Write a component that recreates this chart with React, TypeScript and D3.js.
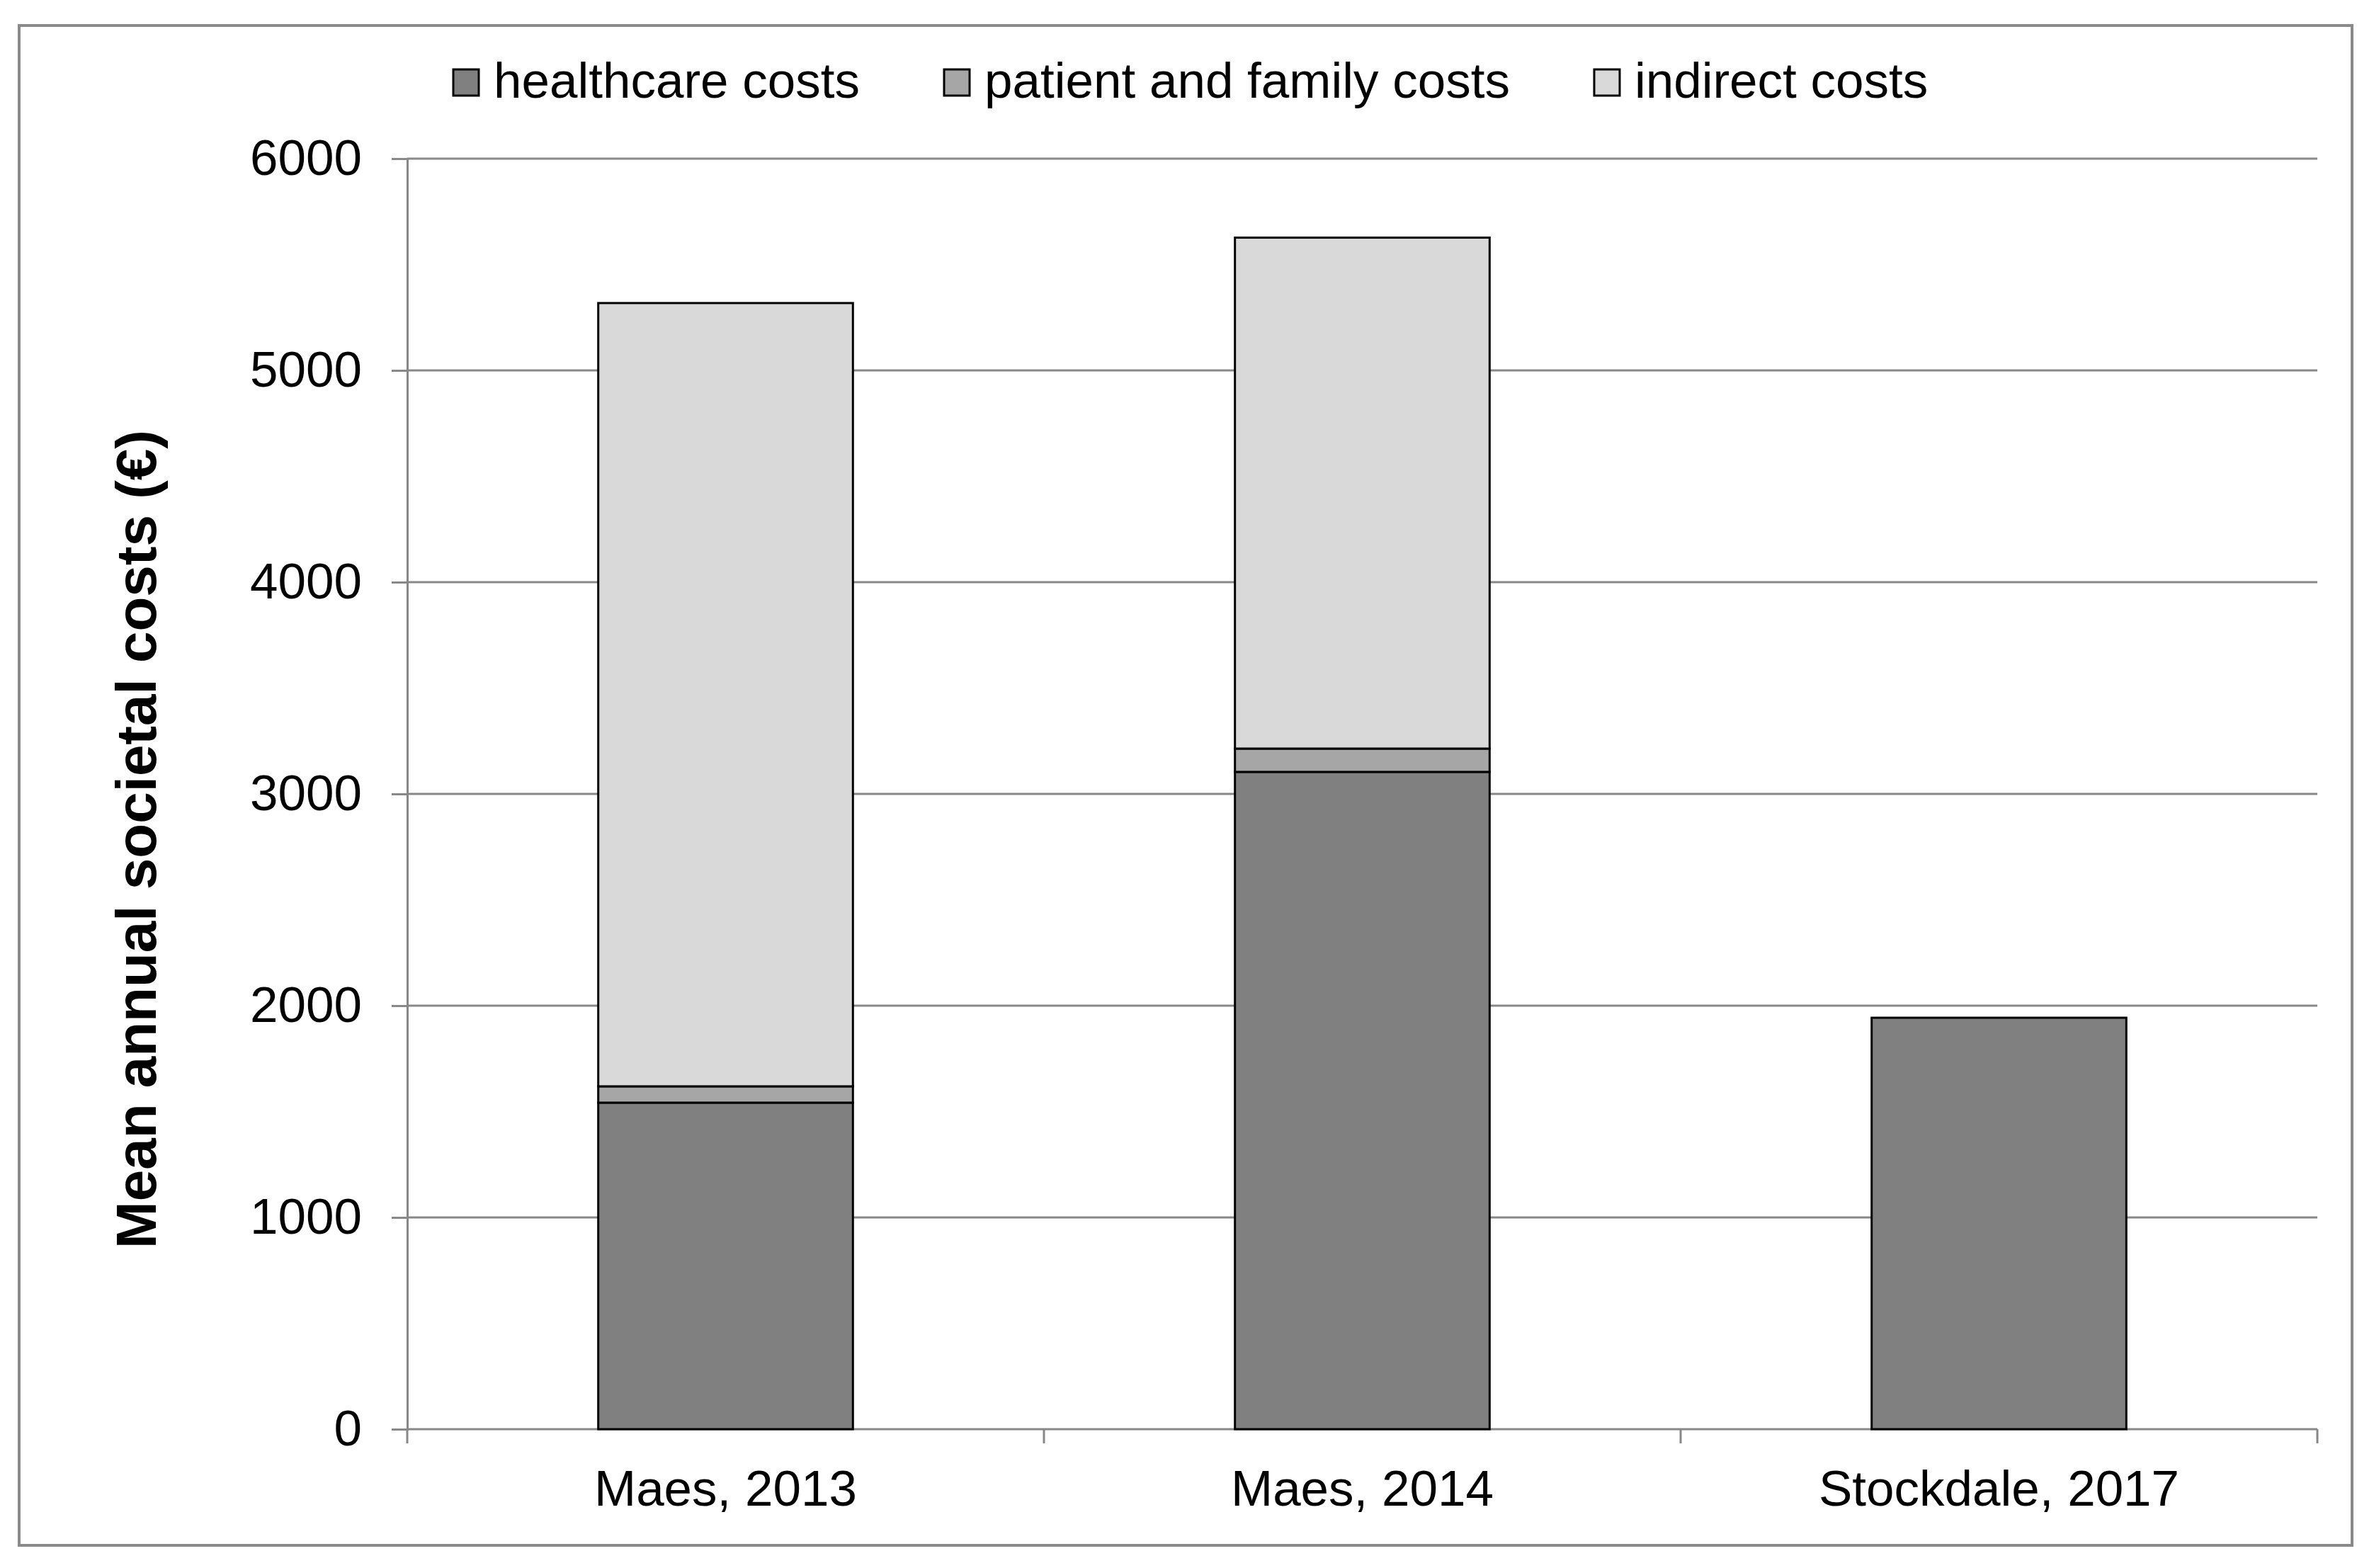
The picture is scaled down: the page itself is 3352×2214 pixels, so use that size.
import React, { useEffect, useRef } from 'react';
import * as d3 from 'd3';

// values (mean annual societal costs, €)
const categories = ['Maes, 2013', 'Maes, 2014', 'Stockdale, 2017'];
const healthcareCosts = [1542, 3104, 1943];
const patientFamilyCosts = [77, 110, 0];
const indirectCosts = [3699, 2413, 0];

const seriesNames = ['healthcare costs', 'patient and family costs', 'indirect costs'];
const seriesColors = ['#808080', '#a6a6a6', '#d9d9d9'];
const yTicks = [0, 1000, 2000, 3000, 4000, 5000, 6000];

const W = 3352;
const H = 2214;
const FONT = '"Liberation Sans", Arial, sans-serif';

const App: React.FC = () => {
    const svgRef = useRef<SVGSVGElement>(null);

    useEffect(() => {
        const svg = d3.select(svgRef.current);
        svg.selectAll('*').remove();

        const plot = { left: 575, right: 3272, top: 224, bottom: 2018 };

        const rows = categories.map((c, i) => ({
            name: c,
            healthcare: healthcareCosts[i],
            patient: patientFamilyCosts[i],
            indirect: indirectCosts[i]
        }));
        const keys = ['healthcare', 'patient', 'indirect'];
        const stacked = d3.stack<any>().keys(keys)(rows);

        const x = d3.scaleBand()
            .domain(categories)
            .range([plot.left, plot.right])
            .paddingInner(0.6)
            .paddingOuter(0.3);

        const y = d3.scaleLinear()
            .domain([0, 6000])
            .range([plot.bottom, plot.top]);

        // outer frame
        svg.append('rect')
            .attr('x', 27).attr('y', 36)
            .attr('width', 3294).attr('height', 2146)
            .attr('fill', 'white')
            .attr('stroke', '#8a8a8a')
            .attr('stroke-width', 4);

        // grid lines
        svg.append('g')
            .selectAll('line')
            .data(yTicks.filter(t => t > 0))
            .enter()
            .append('line')
            .attr('x1', plot.left).attr('x2', plot.right)
            .attr('y1', d => y(d)).attr('y2', d => y(d))
            .attr('stroke', '#888')
            .attr('stroke-width', 3);

        // y axis
        const yAxis = svg.append('g')
            .attr('transform', `translate(${plot.left},0)`)
            .call(d3.axisLeft(y).tickValues(yTicks).tickSize(22).tickPadding(42).tickFormat(d3.format('d')));
        yAxis.selectAll('line').attr('stroke', '#888').attr('stroke-width', 3);
        yAxis.select('.domain').attr('stroke', '#888').attr('stroke-width', 3);
        yAxis.selectAll('text')
            .style('font-family', FONT)
            .style('font-size', '71px')
            .attr('fill', '#000');

        // x axis
        const xAxis = svg.append('g').attr('transform', `translate(0,${plot.bottom})`);
        xAxis.append('line')
            .attr('x1', plot.left).attr('x2', plot.right)
            .attr('stroke', '#888').attr('stroke-width', 3);
        const bounds = d3.range(categories.length + 1).map(i => plot.left + i * x.step());
        xAxis.selectAll('.xtick')
            .data(bounds)
            .enter()
            .append('line')
            .attr('class', 'xtick')
            .attr('x1', d => d).attr('x2', d => d)
            .attr('y1', 0).attr('y2', 20)
            .attr('stroke', '#888').attr('stroke-width', 3);
        xAxis.selectAll('text')
            .data(categories)
            .enter()
            .append('text')
            .attr('x', d => (x(d) || 0) + x.bandwidth() / 2)
            .attr('y', 108)
            .attr('text-anchor', 'middle')
            .style('font-family', FONT)
            .style('font-size', '71px')
            .text(d => d);

        // stacked bars
        stacked.forEach((layer, li) => {
            svg.append('g')
                .selectAll('rect')
                .data(layer.filter(d => d[1] - d[0] > 0))
                .enter()
                .append('rect')
                .attr('x', d => x(d.data.name) || 0)
                .attr('width', x.bandwidth())
                .attr('y', d => y(d[1]))
                .attr('height', d => y(d[0]) - y(d[1]))
                .attr('fill', seriesColors[li])
                .attr('stroke', '#000')
                .attr('stroke-width', 3);
        });

        // y title
        svg.append('text')
            .attr('transform', 'translate(220,1185) rotate(-90)')
            .attr('text-anchor', 'middle')
            .style('font-family', FONT)
            .style('font-size', '80px')
            .style('font-weight', 'bold')
            .text('Mean annual societal costs (€)');

        // legend
        const legend = svg.append('g');
        let lx = 640;
        seriesNames.forEach((name, i) => {
            legend.append('rect')
                .attr('x', lx).attr('y', 98)
                .attr('width', 36).attr('height', 37)
                .attr('fill', seriesColors[i])
                .attr('stroke', '#000')
                .attr('stroke-width', 3);
            const t = legend.append('text')
                .attr('x', lx + 57)
                .attr('y', 138)
                .style('font-family', FONT)
                .style('font-size', '71px')
                .text(name);
            const w = (t.node() as SVGTextElement).getComputedTextLength();
            lx += 57 + w + 119;
        });
    }, []);

    return (
        <svg
            ref={svgRef}
            width={W}
            height={H}
            style={{ position: 'absolute', left: 0, top: 0, background: 'white' }}
        />
    );
};

export default App;
